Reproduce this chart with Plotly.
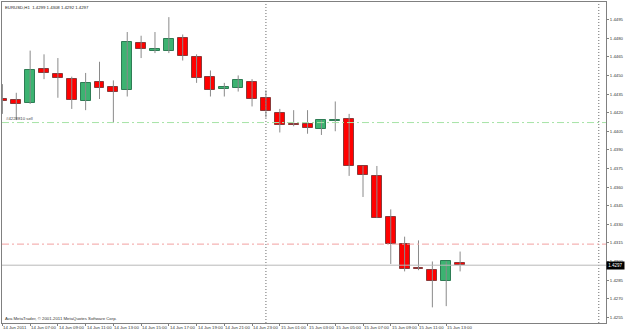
import plotly.graph_objects as go
from datetime import datetime, timedelta

# ---- data (EURUSD H1) ----
symbol = "EURUSD,H1"
start_time = datetime(2011, 6, 14, 5)
opens = [1.4431, 1.4430, 1.4428, 1.4455, 1.4451, 1.4447, 1.4429, 1.4445, 1.4441, 1.4438,
         1.4476, 1.4470, 1.4470, 1.4480, 1.4465, 1.4449, 1.4439, 1.4440, 1.4445, 1.4432,
         1.4420, 1.4411, 1.4411, 1.4407, 1.4413, 1.4415, 1.4377, 1.4369, 1.4336, 1.4314,
         1.4295, 1.4293, 1.4284, 1.4299]
highs = [1.4443, 1.4436, 1.4470, 1.4467, 1.4464, 1.4449, 1.4452, 1.4461, 1.4446, 1.4485,
         1.4482, 1.4485, 1.4497, 1.4483, 1.4467, 1.4454, 1.4444, 1.4450, 1.4447, 1.4438,
         1.4423, 1.4422, 1.4422, 1.4414, 1.4429, 1.4419, 1.4377, 1.4377, 1.4342, 1.4320,
         1.4317, 1.4300, 1.4300, 1.4308]
lows = [1.4419, 1.4414, 1.4427, 1.4447, 1.4432, 1.4423, 1.4422, 1.4431, 1.4412, 1.4433,
        1.4464, 1.4468, 1.4468, 1.4462, 1.4444, 1.4433, 1.4433, 1.4437, 1.4425, 1.4416,
        1.4404, 1.4409, 1.4403, 1.4402, 1.4405, 1.4369, 1.4352, 1.4335, 1.4298, 1.4292,
        1.4293, 1.4263, 1.4264, 1.4292]
closes = [1.4429, 1.4427, 1.4454, 1.4452, 1.4448, 1.4430, 1.4444, 1.4440, 1.4437, 1.4477,
          1.4471, 1.4471, 1.4479, 1.4466, 1.4448, 1.4438, 1.4441, 1.4446, 1.4431, 1.4421,
          1.4410, 1.4410, 1.4408, 1.4414, 1.4414, 1.4377, 1.4370, 1.4335, 1.4314, 1.4294,
          1.4294, 1.4284, 1.4300, 1.4297]
order_label = "#4228810 sell"
order_price = 1.4412
target_price = 1.4314
price_ticks = [round(1.4255 + 0.0015 * k, 4) for k in range(18)]
copyright_text = "Ava MetaTrader, \u00a9 2001-2011 MetaQuotes Software Corp."

n = len(opens)
xs = list(range(n))
times = [start_time + timedelta(hours=i) for i in xs]
label_bars = xs[::2]
label_texts = [("%d %s %d" % (t.day, t.strftime("%b"), t.year)) if i == 0
               else ("%d %s %s" % (t.day, t.strftime("%b"), t.strftime("%H:%M")))
               for i, t in zip(label_bars, [times[i] for i in label_bars])]
x_max = 43.52
separators = [i for i in range(int(x_max) + 1)
              if (start_time + timedelta(hours=i)).hour == 0]

FONT = "Liberation Sans, Arial, sans-serif"
UP_FILL, UP_LINE = "#3CB371", "#2E7D55"
DN_FILL, DN_LINE = "#FF0000", "#8B3A3A"

fig = go.Figure()

# wicks
wx, wy = [], []
for i in xs:
    wx += [i, i, None]
    wy += [lows[i], highs[i], None]
fig.add_trace(go.Scatter(x=wx, y=wy, mode="lines",
                         line=dict(color="#8a8a8a", width=1), hoverinfo="skip"))

# bodies
bases = [min(o, c) for o, c in zip(opens, closes)]
heights = [abs(c - o) for o, c in zip(opens, closes)]
fills = [UP_FILL if c > o else DN_FILL for o, c in zip(opens, closes)]
edges = [UP_LINE if c > o else DN_LINE for o, c in zip(opens, closes)]
fig.add_trace(go.Bar(x=xs, y=heights, base=bases, width=0.72,
                     marker=dict(color=fills, line=dict(color=edges, width=1))))

shapes = []
for s in separators:
    shapes.append(dict(type="line", xref="x", yref="paper", x0=s, x1=s, y0=0, y1=1,
                       line=dict(color="#6a6a6a", width=1, dash="1px,2px")))
shapes.append(dict(type="line", xref="paper", yref="y", x0=0, x1=1,
                   y0=order_price, y1=order_price,
                   line=dict(color="#a6e3a6", width=1, dash="7px,3px,2px,3px")))
shapes.append(dict(type="line", xref="paper", yref="y", x0=0, x1=1,
                   y0=target_price, y1=target_price,
                   line=dict(color="#f2a0a0", width=1, dash="7px,3px,2px,3px")))
shapes.append(dict(type="line", xref="paper", yref="y", x0=0, x1=1,
                   y0=closes[-1], y1=closes[-1],
                   line=dict(color="#b8b8b8", width=1)))

annotations = []
for b, t in zip(label_bars, label_texts):
    annotations.append(dict(x=b, y=0, xref="x", yref="paper", text=t, showarrow=False,
                            xanchor="left", yanchor="top", yshift=-1, borderpad=0,
                            font=dict(family=FONT, size=4.3, color="#333333")))
header = "%s  %.4f %.4f %.4f %.4f" % (symbol, opens[-1], highs[-1], lows[-1], closes[-1])
annotations.append(dict(x=0, y=1, xref="paper", yref="paper", text=header, showarrow=False,
                        xanchor="left", yanchor="top", xshift=2, yshift=-2, borderpad=0,
                        font=dict(family=FONT, size=4.3, color="#222222")))
annotations.append(dict(x=0, y=0, xref="paper", yref="paper", text=copyright_text,
                        showarrow=False, xanchor="left", yanchor="bottom", xshift=2,
                        yshift=1, borderpad=0,
                        font=dict(family=FONT, size=4.3, color="#333333")))
annotations.append(dict(x=0, y=order_price, xref="paper", yref="y", text=order_label,
                        showarrow=False, xanchor="left", yanchor="bottom", xshift=3,
                        yshift=1, borderpad=0,
                        font=dict(family=FONT, size=4.3, color="#444444")))
annotations.append(dict(x=1, y=closes[-1], xref="paper", yref="y",
                        text="%.4f" % closes[-1], showarrow=False, xanchor="left",
                        yanchor="middle", xshift=0, borderpad=1, bgcolor="#000000",
                        width=15, align="center",
                        font=dict(family=FONT, size=4.5, color="#ffffff")))

fig.update_layout(
    width=625, height=331, autosize=False,
    margin=dict(l=1, r=17, t=1, b=8),
    paper_bgcolor="white", plot_bgcolor="white",
    showlegend=False, barmode="overlay", bargap=0,
    shapes=shapes, annotations=annotations,
    xaxis=dict(range=[-0.03, x_max], showgrid=False, zeroline=False,
               showline=True, mirror=True, linecolor="#808080", linewidth=1,
               tickvals=label_bars, ticktext=["" for _ in label_bars],
               ticks="outside", ticklen=2, tickcolor="#808080", fixedrange=True),
    yaxis=dict(range=[1.42504, 1.45092], side="right", showgrid=False, zeroline=False,
               showline=True, mirror=True, linecolor="#808080", linewidth=1,
               tickvals=price_ticks, ticktext=["%.4f" % p for p in price_ticks],
               ticks="outside", ticklen=2, tickcolor="#808080",
               tickfont=dict(family=FONT, size=4.3, color="#333333"), fixedrange=True),
)

fig.write_html("out.html")
